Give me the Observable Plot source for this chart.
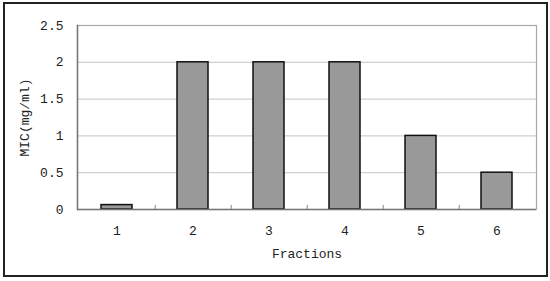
<!DOCTYPE html>
<html>
<head>
<meta charset="utf-8">
<script src="https://cdn.jsdelivr.net/npm/d3@7"></script>
<script src="https://cdn.jsdelivr.net/npm/@observablehq/plot@0.6"></script>
<style>
  html, body { margin: 0; padding: 0; background: #fff; }
  #wrap { position: relative; width: 550px; height: 281px; overflow: hidden; }
  #wrap svg { position: absolute; left: 0; top: 0; }
  #border { position: absolute; left: 3px; top: 2px; width: 541px; height: 271px; border: 2px solid #222; pointer-events: none; }
</style>
</head>
<body>
<div id="wrap"><div id="border"></div></div>
<script>
const fractions = ["1", "2", "3", "4", "5", "6"];
const mic = [0.06, 2, 2, 2, 1, 0.5];
const yTicks = [0, 0.5, 1, 1.5, 2, 2.5];

const data = fractions.map((f, i) => ({fraction: f, value: mic[i]}));

const W = 550, H = 281;
const mL = 77, mR = 14, mT = 25, mB = 72;
const halfStep = (W - mL - mR) / fractions.length / 2;
const font = "'Liberation Mono', monospace";

const chart = Plot.plot({
  width: W,
  height: H,
  marginLeft: mL,
  marginRight: mR,
  marginTop: mT,
  marginBottom: mB,
  style: {fontFamily: font, fontSize: "13px", color: "#222", background: "transparent"},
  x: {type: "band", domain: fractions, paddingInner: 0.59, paddingOuter: 0.295, label: null},
  y: {type: "linear", domain: [0, 2.5], label: null},
  marks: [
    Plot.gridY(yTicks, {stroke: "#c4c4c4", strokeOpacity: 1, strokeWidth: 1}),
    Plot.frame({stroke: "#a8a8a8", strokeWidth: 1.2}),
    Plot.frame({anchor: "left", stroke: "#777", strokeWidth: 1.5}),
    Plot.barY(data, {x: "fraction", y: "value", fill: "#999999", stroke: "#111", strokeWidth: 1.5}),
    Plot.ruleY([0], {stroke: "#777", strokeWidth: 1.5}),
    Plot.ruleX(fractions.slice(0, 5), {x: d => d, dx: halfStep, y1: 0, y2: 0, insetTop: -4, stroke: "#888"}),
    Plot.axisY(yTicks, {tickSize: 0, tickPadding: 14, tickFormat: d => String(d), fontSize: 13,
      label: "MIC(mg/ml)", labelAnchor: "center", labelArrow: "none", labelOffset: 58}),
    Plot.axisX({tickSize: 0, tickPadding: 16, fontSize: 13,
      label: "Fractions", labelAnchor: "center", labelArrow: "none", labelOffset: 48})
  ]
});
document.getElementById("wrap").prepend(chart);
</script>
</body>
</html>
